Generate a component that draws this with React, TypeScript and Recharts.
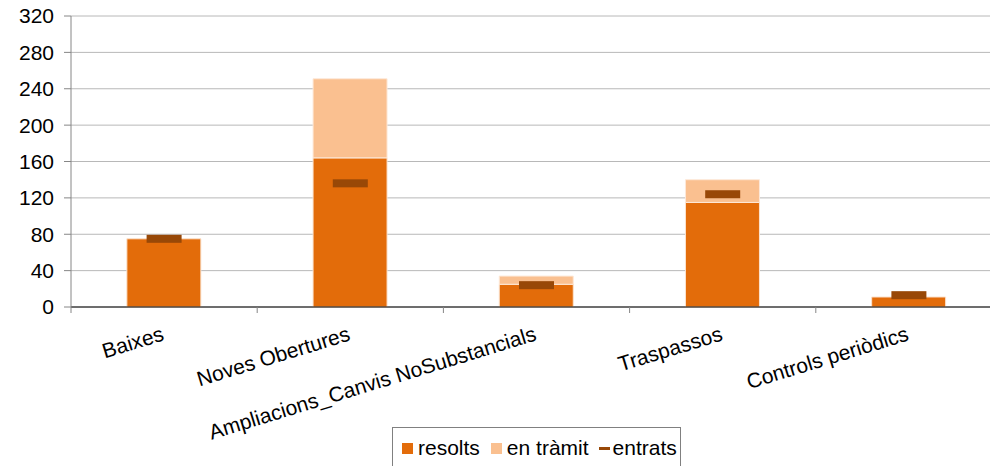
import React from 'react';
import { ComposedChart, Bar, Line, XAxis, YAxis, CartesianGrid, Legend } from 'recharts';

const categories = ['Baixes', 'Noves Obertures', 'Ampliacions_Canvis NoSubstancials', 'Traspassos', 'Controls periòdics'];
const resolts = [75, 164, 25, 115, 11];
const enTramit = [0, 87, 9, 25, 0];
const entrats = [75, 136, 24, 124, 13];
const yTicks = [0, 40, 80, 120, 160, 200, 240, 280, 320];

const data = categories.map((name, i) => ({
  name,
  resolts: resolts[i],
  enTramit: enTramit[i],
  entrats: entrats[i],
}));

const FONT = '"Liberation Sans", Arial, sans-serif';
const ORANGE = '#E36C0A';
const LIGHT = '#FAC090';
const BROWN = '#984807';
const HALF_BAND = 93.1;

const CategoryTick = (props: any) => {
  const { x, y, payload } = props;
  const axisY = y - 8;
  return (
    <g>
      <line x1={x - HALF_BAND} y1={axisY} x2={x - HALF_BAND} y2={axisY + 6} stroke="#868686" />
      <text
        x={x + 1}
        y={axisY + 33}
        textAnchor="end"
        fontSize={21}
        fontFamily={FONT}
        fill="#000"
        transform={`rotate(-17, ${x + 1}, ${axisY + 33})`}
      >
        {payload.value}
      </text>
    </g>
  );
};

const EntratsMark = (props: any) => {
  const { cx, cy } = props;
  if (cx == null || cy == null) return null;
  return <rect x={cx - 17.5} y={cy - 4} width={35} height={8} fill={BROWN} />;
};

const LegendBox = () => (
  <div
    style={{
      border: '1px solid #808080',
      height: 42,
      boxSizing: 'border-box',
      display: 'flex',
      alignItems: 'center',
      paddingLeft: 9,
      fontFamily: FONT,
      fontSize: 21,
      color: '#000',
      background: '#fff',
    }}
  >
    <span style={{ width: 11, height: 11, background: ORANGE, display: 'inline-block', marginRight: 5 }} />
    <span style={{ marginRight: 11 }}>resolts</span>
    <span style={{ width: 11, height: 11, background: LIGHT, display: 'inline-block', marginRight: 5 }} />
    <span style={{ marginRight: 10 }}>en tràmit</span>
    <span style={{ width: 11, height: 3, background: BROWN, display: 'inline-block', marginRight: 3 }} />
    <span>entrats</span>
  </div>
);

export default function App() {
  return (
    <div style={{ position: 'fixed', left: 0, top: 0, width: 990, height: 466, overflow: 'hidden', background: '#fff' }}>
      <ComposedChart
        width={1010}
        height={466}
        data={data}
        margin={{ top: 16, right: 8, left: 0, bottom: 0 }}
        barCategoryGap="30%"
      >
        <CartesianGrid vertical={false} stroke="#b8b8b8" />
        <XAxis
          dataKey="name"
          height={159}
          interval={0}
          tickLine={false}
          axisLine={{ stroke: '#000' }}
          tick={<CategoryTick />}
        />
        <YAxis
          width={71}
          domain={[0, 320]}
          ticks={yTicks}
          interval={0}
          tickSize={7}
          tickMargin={10}
          axisLine={{ stroke: '#868686' }}
          tickLine={{ stroke: '#868686' }}
          tick={{ fontSize: 21, fontFamily: FONT, fill: '#000' }}
        />
        <Legend
          layout="horizontal"
          verticalAlign="middle"
          align="center"
          content={<LegendBox />}
          wrapperStyle={{ left: 392, top: 427, width: 289, height: 42 }}
        />
        <Bar dataKey="resolts" name="resolts" stackId="a" fill={ORANGE} stroke="#fbe3cf" strokeWidth={1} isAnimationActive={false} />
        <Bar dataKey="enTramit" name="en tràmit" stackId="a" fill={LIGHT} stroke="#fde9d9" strokeWidth={1} isAnimationActive={false} />
        <Line
          dataKey="entrats"
          name="entrats"
          stroke="none"
          dot={<EntratsMark />}
          activeDot={false}
          isAnimationActive={false}
        />
      </ComposedChart>
    </div>
  );
}
